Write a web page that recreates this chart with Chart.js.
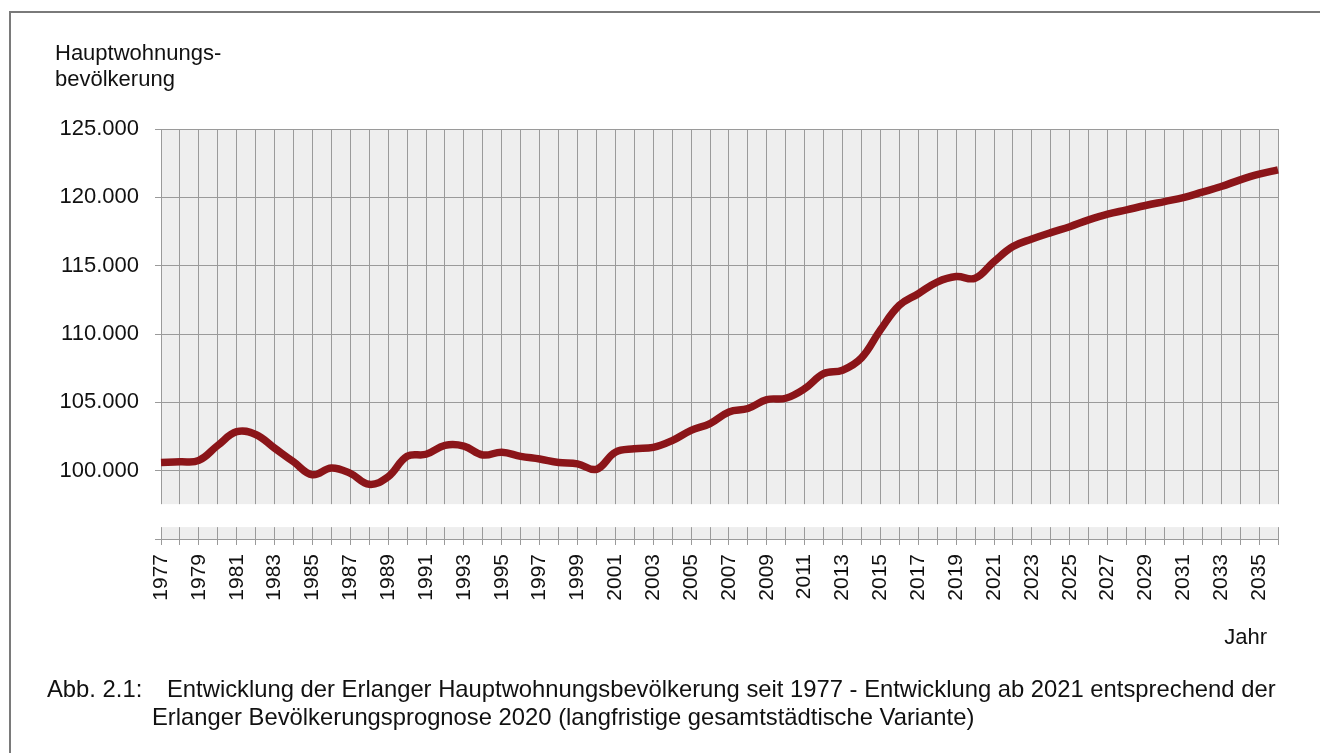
<!DOCTYPE html>
<html><head><meta charset="utf-8">
<script src="https://cdn.jsdelivr.net/npm/chart.js@4/dist/chart.umd.min.js"></script>
<style>
html,body{margin:0;padding:0;background:#fff;}
#wrap{position:relative;width:1320px;height:753px;overflow:hidden;font-family:"Liberation Sans",Arial,sans-serif;color:#111;}
#frame{position:absolute;left:9px;top:11px;width:1400px;height:800px;border:2px solid #7a7a7a;box-sizing:border-box;}
canvas{position:absolute;left:0;top:0;}
.t{position:absolute;white-space:nowrap;font-size:22px;line-height:26px;}
.c{position:absolute;white-space:nowrap;font-size:23.8px;line-height:28px;}
</style></head>
<body><div id="wrap"><div id="frame"></div><canvas id="c" width="1320" height="753"></canvas>
<div class="t" style="left:55px;top:40px;">Hauptwohnungs-<br>bevölkerung</div>
<div class="t" style="right:53px;top:624px;">Jahr</div>
<div class="c" style="left:47px;top:675px;">Abb. 2.1:</div>
<div class="c" style="left:167px;top:675px;">Entwicklung der Erlanger Hauptwohnungsbevölkerung seit 1977 - Entwicklung ab 2021 entsprechend der</div>
<div class="c" style="left:152px;top:703px;">Erlanger Bevölkerungsprognose 2020 (langfristige gesamtstädtische Variante)</div>
</div>
<script>
const years = ["1977","1978","1979","1980","1981","1982","1983","1984","1985","1986",
"1987","1988","1989","1990","1991","1992","1993","1994","1995","1996",
"1997","1998","1999","2000","2001","2002","2003","2004","2005","2006",
"2007","2008","2009","2010","2011","2012","2013","2014","2015","2016",
"2017","2018","2019","2020","2021","2022","2023","2024","2025","2026",
"2027","2028","2029","2030","2031","2032","2033","2034","2035","2036"];
const population = [100600,100650,100750,101850,102850,102650,101650,100650,99700,100200,
99800,99000,99550,101050,101200,101850,101800,101150,101350,101050,
100850,100600,100500,100100,101350,101600,101700,102200,102950,103450,
104300,104550,105200,105300,106000,107100,107350,108250,110300,112100,
112950,113800,114200,114080,115300,116400,116950,117420,117850,118350,
118770,119080,119400,119690,119980,120380,120790,121280,121700,122010];
const yMin = 95000, yMax = 125000, yStep = 5000;

function fmt(v){return String(v).replace(/\B(?=(\d{3})+(?!\d))/g,'.');}

const bgPlugin = {
  id:'bg',
  beforeDraw(chart){
    const {ctx, chartArea:a} = chart;
    ctx.save(); ctx.fillStyle='#eeeeee';
    ctx.fillRect(a.left,a.top,a.right-a.left,a.bottom-a.top);
    ctx.restore();
  }
};
const breakPlugin = {
  id:'axisBreak',
  beforeDatasetsDraw(chart){
    const {ctx, chartArea:a, scales:{y}} = chart;
    const t = y.getPixelForValue(97550), b = y.getPixelForValue(95870);
    ctx.save(); ctx.fillStyle='#ffffff';
    ctx.fillRect(a.left-3,t,a.right-a.left+6,b-t);
    ctx.restore();
  }
};

new Chart(document.getElementById('c'),{
  type:'line',
  data:{labels:years,datasets:[{data:population,borderColor:'#8b1519',borderWidth:7.5,pointRadius:0,tension:0.4,fill:false,borderCapStyle:'butt'}]},
  options:{
    responsive:false,animation:false,devicePixelRatio:1,
    layout:{padding:{left:0,right:42,top:129,bottom:0}},
    plugins:{legend:{display:false},tooltip:{enabled:false},title:{display:false}},
    scales:{
      x:{
        grid:{color:'#9a9a9a',lineWidth:1,tickLength:6},
        border:{color:'#9a9a9a'},
        ticks:{autoSkip:false,maxRotation:90,minRotation:90,padding:9,color:'#111',
          font:{family:'Liberation Sans',size:21},
          callback:function(v,i){return i%2===0?this.getLabelForValue(v):'';}},
        afterFit(s){s.height=214;}
      },
      y:{
        min:yMin,max:yMax,
        grid:{color:'#9a9a9a',lineWidth:1,tickLength:6},
        border:{color:'#9a9a9a'},
        ticks:{stepSize:yStep,padding:16,color:'#111',font:{family:'Liberation Sans',size:22},
          callback:v=>v===yMin?'':fmt(v)},
        afterFit(s){s.width=161;}
      }
    }
  },
  plugins:[bgPlugin,breakPlugin]
});
</script>
</body></html>
